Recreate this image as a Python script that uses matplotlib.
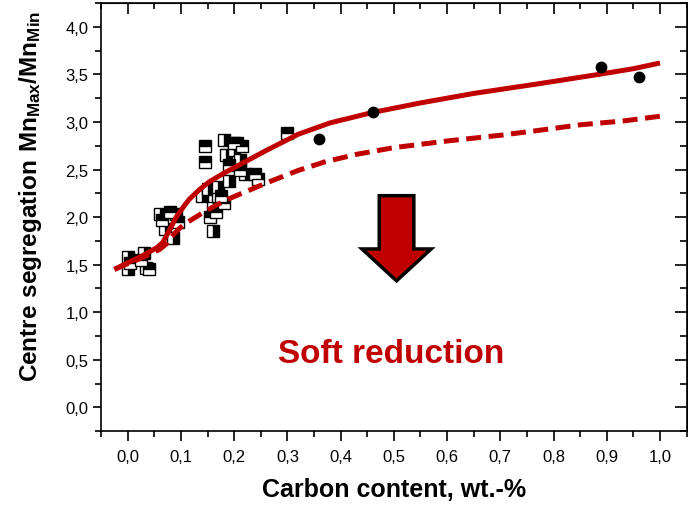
import matplotlib
matplotlib.use("Agg")
import matplotlib.pyplot as plt
from matplotlib.ticker import MultipleLocator, FuncFormatter
from matplotlib.patches import FancyArrow

plt.rcParams['font.family'] = ['Liberation Sans', 'DejaVu Sans']
plt.rcParams['mathtext.fontset'] = 'custom'
plt.rcParams['mathtext.rm'] = 'Liberation Sans'
plt.rcParams['mathtext.bf'] = 'Liberation Sans:bold'

RED = '#C00000'

# Messwerte (halb gefuellte Quadrate, zwei Serien)
sq_right_x = [0.0, 0.0, 0.03, 0.035, 0.06, 0.07, 0.085, 0.09, 0.14, 0.15, 0.16,
              0.16, 0.17, 0.18, 0.19, 0.2, 0.21, 0.22, 0.17, 0.205, 0.185]
sq_right_y = [1.45, 1.58, 1.62, 1.47, 2.03, 1.88, 1.78, 2.03, 2.22, 2.3, 2.1,
              1.85, 2.22, 2.81, 2.38, 2.7, 2.6, 2.45, 2.32, 2.78, 2.65]
sq_top_x = [0.005, 0.04, 0.025, 0.065, 0.08, 0.145, 0.145, 0.19, 0.2, 0.215,
            0.24, 0.245, 0.3, 0.155, 0.18, 0.165, 0.21, 0.175, 0.095]
sq_top_y = [1.52, 1.45, 1.55, 1.97, 2.05, 2.75, 2.58, 2.55, 2.78, 2.75,
            2.45, 2.4, 2.88, 2.0, 2.15, 2.05, 2.5, 2.22, 1.95]

# Kreise
dot_x = [0.36, 0.46, 0.89, 0.96]
dot_y = [2.82, 3.10, 3.58, 3.47]

# Trendlinie ohne Softreduction
fit_x = [-0.025, 0.0, 0.03, 0.055, 0.066, 0.08, 0.091, 0.105, 0.116, 0.135,
         0.153, 0.18, 0.21, 0.26, 0.32, 0.38, 0.46, 0.55, 0.65, 0.77, 0.885,
         0.95, 1.0]
fit_y = [1.45, 1.52, 1.60, 1.68, 1.735, 1.88, 2.0, 2.11, 2.19, 2.29,
         2.37, 2.46, 2.55, 2.70, 2.87, 2.99, 3.10, 3.20, 3.30, 3.40, 3.50,
         3.56, 3.62]

# Trendlinie mit Softreduction
sr_x = [-0.025, 0.0, 0.03, 0.06, 0.073, 0.085, 0.097, 0.11, 0.125, 0.145,
        0.165, 0.185, 0.21, 0.24, 0.27, 0.32, 0.37, 0.43, 0.5, 0.6, 0.7,
        0.77, 0.85, 0.93, 1.0]
sr_y = [1.45, 1.51, 1.58, 1.66, 1.72, 1.81, 1.88, 1.94, 1.99, 2.06,
        2.12, 2.18, 2.24, 2.31, 2.38, 2.49, 2.58, 2.66, 2.73, 2.80, 2.86,
        2.91, 2.97, 3.01, 3.06]

fig = plt.figure(figsize=(6.88, 5.06), dpi=100)
ax = fig.add_axes([0.147, 0.146, 0.851, 0.846])

ax.plot(sq_right_x, sq_right_y, 's', fillstyle='right', ms=8, mfc='black',
        mfcalt='white', mec='black', mew=1.0, ls='none', zorder=2)
ax.plot(sq_top_x, sq_top_y, 's', fillstyle='top', ms=8, mfc='black',
        mfcalt='white', mec='black', mew=1.0, ls='none', zorder=2)
ax.plot(dot_x, dot_y, 'o', ms=7.5, color='black', ls='none', zorder=4)

ax.plot(fit_x, fit_y, '-', color=RED, lw=3.6, solid_capstyle='butt', zorder=3)
ax.plot(sr_x, sr_y, '--', color=RED, lw=3.6, dashes=(3, 1.5),
        dash_capstyle='butt', zorder=3)

# Pfeil und Text
arrow = FancyArrow(0.505, 2.225, 0, -0.895, width=0.065, head_width=0.13,
                   head_length=0.335, length_includes_head=True,
                   fc=RED, ec='black', lw=2.5, zorder=5)
ax.add_patch(arrow)
ax.text(0.495, 0.48, 'Soft reduction', color=RED, fontsize=24,
        fontweight='bold', ha='center', va='baseline')

ax.set_xlim(-0.05, 1.05)
ax.set_ylim(-0.25, 4.25)

comma = FuncFormatter(lambda v, p: f'{v:.1f}'.replace('.', ','))
ax.xaxis.set_major_locator(MultipleLocator(0.1))
ax.xaxis.set_minor_locator(MultipleLocator(0.05))
ax.yaxis.set_major_locator(MultipleLocator(0.5))
ax.yaxis.set_minor_locator(MultipleLocator(0.25))
ax.xaxis.set_major_formatter(comma)
ax.yaxis.set_major_formatter(comma)

for s in ax.spines.values():
    s.set_linewidth(1.2)

ax.tick_params(which='both', width=1.2, labelsize=12)
ax.tick_params(axis='x', which='major', direction='out', length=7, pad=6)
ax.tick_params(axis='x', which='minor', direction='out', length=4)
ax.tick_params(axis='y', which='major', direction='out', length=6, pad=3)
ax.tick_params(axis='y', which='minor', direction='out', length=4)

# Ticks oben und rechts nach innen
sec_x = ax.secondary_xaxis('top')
sec_x.xaxis.set_major_locator(MultipleLocator(0.1))
sec_x.xaxis.set_minor_locator(MultipleLocator(0.05))
sec_x.tick_params(which='major', direction='in', length=8, width=1.2, labeltop=False)
sec_x.tick_params(which='minor', direction='in', length=4, width=1.2)
sec_y = ax.secondary_yaxis('right')
sec_y.yaxis.set_major_locator(MultipleLocator(0.5))
sec_y.yaxis.set_minor_locator(MultipleLocator(0.25))
sec_y.tick_params(which='major', direction='in', length=9, width=1.2, labelright=False)
sec_y.tick_params(which='minor', direction='in', length=5, width=1.2)

ax.set_xlabel('Carbon content, wt.-%', fontsize=18, fontweight='bold', labelpad=9)
ax.set_ylabel(r'$\mathbf{Centre\ segregation\ Mn_{Max}/Mn_{Min}}$', fontsize=17.5)
ax.yaxis.set_label_coords(-0.097, 0.55)

fig.savefig('out.png', dpi=100)
